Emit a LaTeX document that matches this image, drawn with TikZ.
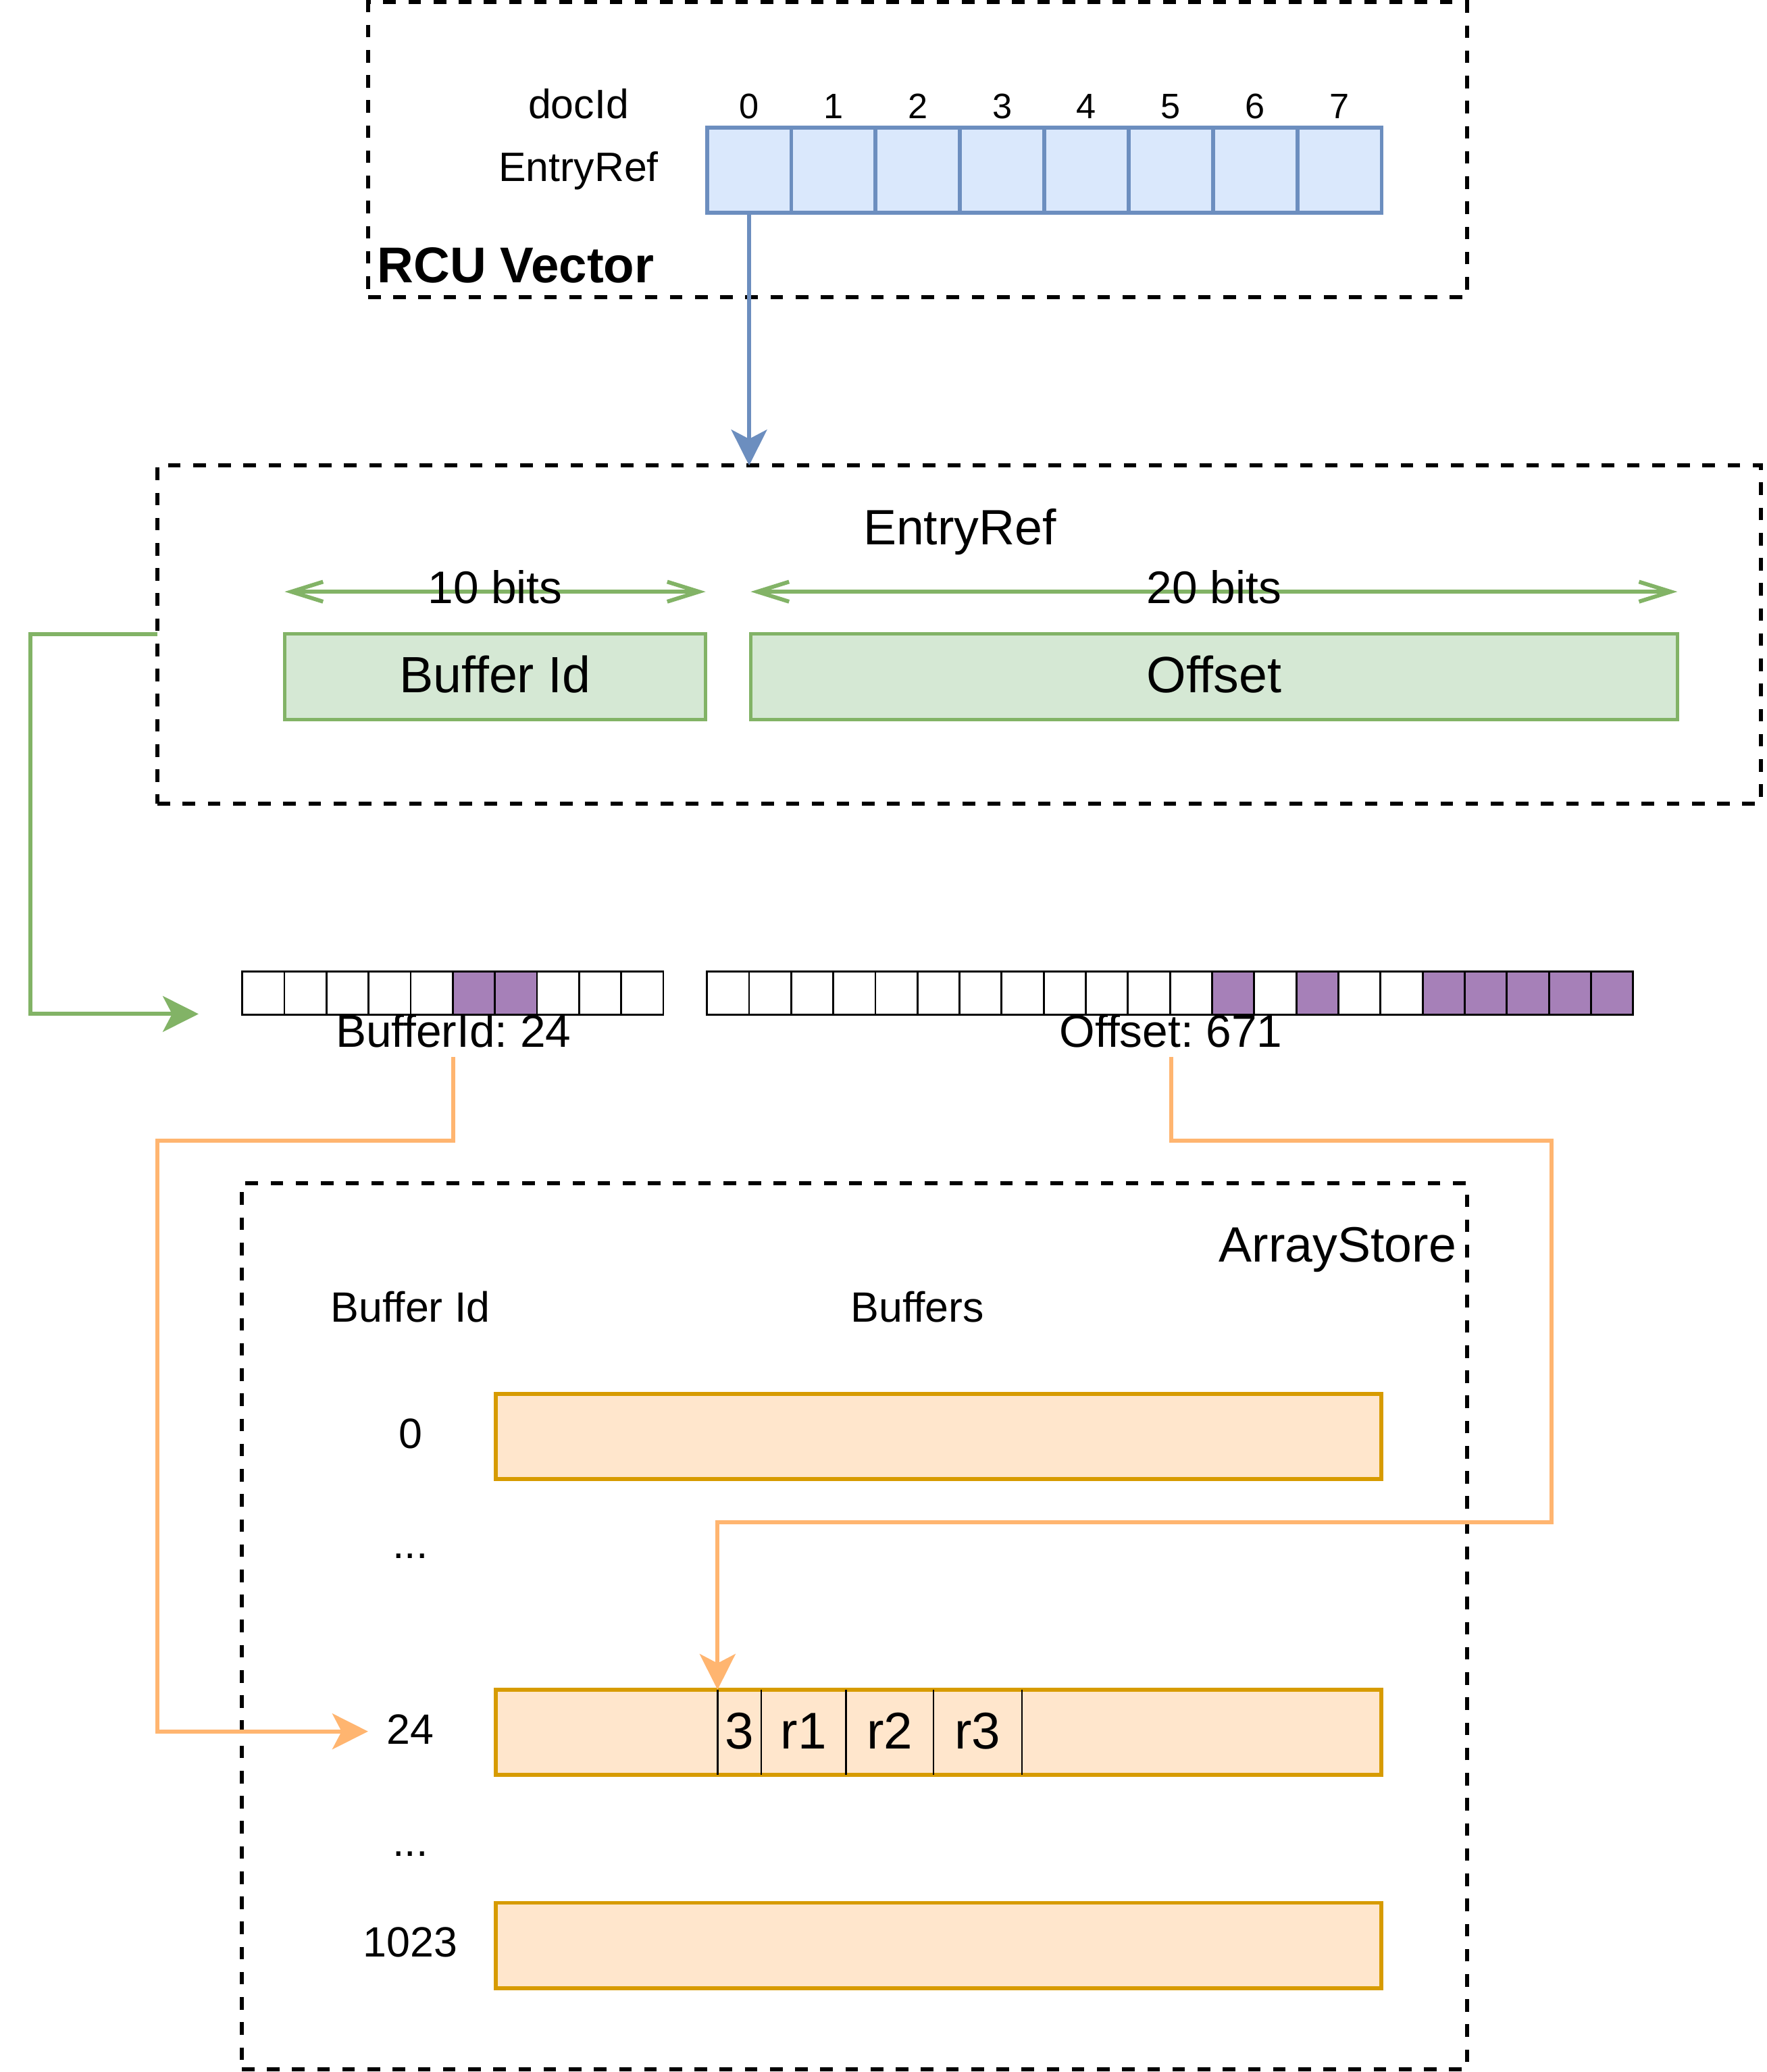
\documentclass[tikz,border=0pt]{standalone}
\usepackage{fontspec}
\setmainfont{Liberation Sans}
\usetikzlibrary{arrows.meta}
\definecolor{bfill}{HTML}{DAE8FC}
\definecolor{bline}{HTML}{6C8EBF}
\definecolor{gfill}{HTML}{D5E8D4}
\definecolor{gline}{HTML}{82B366}
\definecolor{ofill}{HTML}{FFE6CC}
\definecolor{oline}{HTML}{D79B00}
\definecolor{oconn}{HTML}{FFB570}
\definecolor{bitp}{HTML}{A680B8}
\newcommand\myfs[1]{\fontsize{#1}{#1}\selectfont}
\frenchspacing
\begin{document}
\begin{tikzpicture}[x=1pt,y=-1pt,
  every node/.style={inner sep=0pt, outer sep=0pt},
  dbox/.style={draw=black, line width=3pt, dash pattern=on 9.5pt off 9.5pt, anchor=north west},
  bcell/.style={draw=bline, fill=bfill, line width=3pt, minimum width=63.7pt, minimum height=64pt, anchor=north west},
  gbox/.style={draw=gline, fill=gfill, line width=2.5pt, minimum height=64.5pt, anchor=north west},
  obox/.style={draw=oline, fill=ofill, line width=3pt, minimum width=669pt, minimum height=64.5pt, anchor=north west},
  bitcell/.style={draw=black, line width=1.5pt, minimum width=31.8pt, minimum height=32.5pt, anchor=north west},
  slot/.style={minimum height=64.5pt, anchor=north west},
  divider/.style={draw=black, line width=1.2pt},
  txt/.style={anchor=base, text=black},
  bconn/.style={draw=bline, line width=3pt, -{Stealth[length=27pt,width=27pt,inset=7pt,fill=bline]}},
  gconn/.style={draw=gline, line width=3pt, -{Stealth[length=27pt,width=27pt,inset=7pt,fill=gline]}},
  gdbl/.style={draw=gline, line width=3pt, {Straight Barb[length=24pt,width=15pt]}-{Straight Barb[length=24pt,width=15pt]}},
  oconnst/.style={draw=oconn, line width=3pt, -{Stealth[length=27pt,width=27pt,inset=7pt,fill=oconn]}}
]
\path[use as bounding box, fill=white] (0,0) rectangle (1334.2,1565.3);

% ---------- RCU Vector ----------
\node[dbox, minimum width=830pt, minimum height=223pt] (rcubox) at (278,1.7) {};
\foreach \i in {0,...,7} {
  \node[bcell] (c\i) at ({534+63.7*\i},96.5) {};
  \node[txt, font=\myfs{26.7}] (d\i) at ({565.85+63.7*\i},89.3) {\i};
}
\node[txt, font=\myfs{31}] (docid) at (437,89.3) {docId};
\node[txt, font=\myfs{31}] (erlbl) at (437,137) {EntryRef};
\node[anchor=base west, font=\myfs{38}\bfseries] (rcut) at (285,213.5) {RCU Vector};

% ---------- EntryRef ----------
\node[dbox, minimum width=1211pt, minimum height=255.4pt] (erbox) at (119,351.6) {};
\node[txt, font=\myfs{37.5}] (ertitle) at (725,411.5) {EntryRef};
\node[gbox, minimum width=318pt] (bidbox) at (215,479) {};
\node[gbox, minimum width=700pt] (offbox) at (567,479) {};
\node[txt, font=\myfs{38.5}] (bidt) at (374,523) {Buffer Id};
\node[txt, font=\myfs{38.5}] (offt) at (917,523) {Offset};
\coordinate (arrY) at (0,447);
\draw[gdbl] (bidbox.west |- arrY) -- (bidbox.east |- arrY);
\draw[gdbl] (offbox.west |- arrY) -- (offbox.east |- arrY);
\node[txt, font=\myfs{34.5}] (b10) at (374,455.8) {10 bits};
\node[txt, font=\myfs{34.5}] (b20) at (917,455.8) {20 bits};

% ---------- bits ----------
\foreach \f [count=\i from 0] in {white,white,white,white,white,bitp,bitp,white,white,white}
  \node[bitcell, fill=\f] (ba\i) at ({183+31.8*\i},734) {};
\foreach \f [count=\i from 0] in {white,white,white,white,white,white,white,white,white,white,white,white,bitp,white,bitp,white,white,bitp,bitp,bitp,bitp,bitp}
  \node[bitcell, fill=\f] (bb\i) at ({534+31.8*\i},734) {};
\node[txt, font=\myfs{34.5}] (bidl) at (342.5,791) {BufferId: 24};
\node[txt, font=\myfs{34.5}] (offl) at (884.5,791) {Offset: 671};
\coordinate (gtip) at (150,766);

% ---------- ArrayStore ----------
\node[dbox, minimum width=925.5pt, minimum height=669.3pt] (asbox) at (182.6,894) {};
\node[anchor=base east, font=\myfs{37.5}] (ast) at (1100,953.5) {ArrayStore};
\node[txt, font=\myfs{32}] (hbid) at (310,998.5) {Buffer Id};
\node[txt, font=\myfs{32}] (hbuf) at (693,998.5) {Buffers};
\node[txt, font=\myfs{32}] (r0) at (310,1094) {0};
\node[txt, font=\myfs{32}] (rd1) at (310,1177.5) {...};
\node[txt, font=\myfs{32}] (r24) at (310,1317.5) {24};
\node[txt, font=\myfs{32}] (rd2) at (310,1402.5) {...};
\node[txt, font=\myfs{32}] (r1023) at (310,1478.5) {1023};
\node[obox] (buf0) at (374.5,1053) {};
\node[obox] (buf24) at (374.5,1276.5) {};
\node[obox] (buf1023) at (374.5,1437.5) {};
\node[slot, minimum width=33pt] (s0) at (542,1276.5) {};
\node[slot, minimum width=64pt] (s1) at (575,1276.5) {};
\node[slot, minimum width=66pt] (s2) at (639,1276.5) {};
\node[slot, minimum width=67pt] (s3) at (705,1276.5) {};
\draw[divider] (s0.north west) -- (s0.south west);
\foreach \s in {s0,s1,s2,s3}
  \draw[divider] (\s.north east) -- (\s.south east);
\coordinate (slotY) at (0,1321);
\node[txt, font=\myfs{39}] (v0) at (s0 |- slotY) {3};
\node[txt, font=\myfs{39}] (v1) at (s1 |- slotY) {r1};
\node[txt, font=\myfs{39}] (v2) at (s2 |- slotY) {r2};
\node[txt, font=\myfs{39}] (v3) at (s3 |- slotY) {r3};
\coordinate (t24) at (278,1308);

% ---------- connectors ----------
\draw[bconn] (c0.south) -- (c0.south |- erbox.north);
\draw[gconn] (erbox.west |- bidbox.north) -- (23,479) |- (gtip);
\draw[oconnst] ([yshift=-7pt]bidl.south) |- (119,861.5) |- (t24);
\draw[oconnst] ([yshift=-7pt]offl.south) |- (1172,861.5) |- (542,1150) -- (s0.north west);
\end{tikzpicture}
\end{document}
